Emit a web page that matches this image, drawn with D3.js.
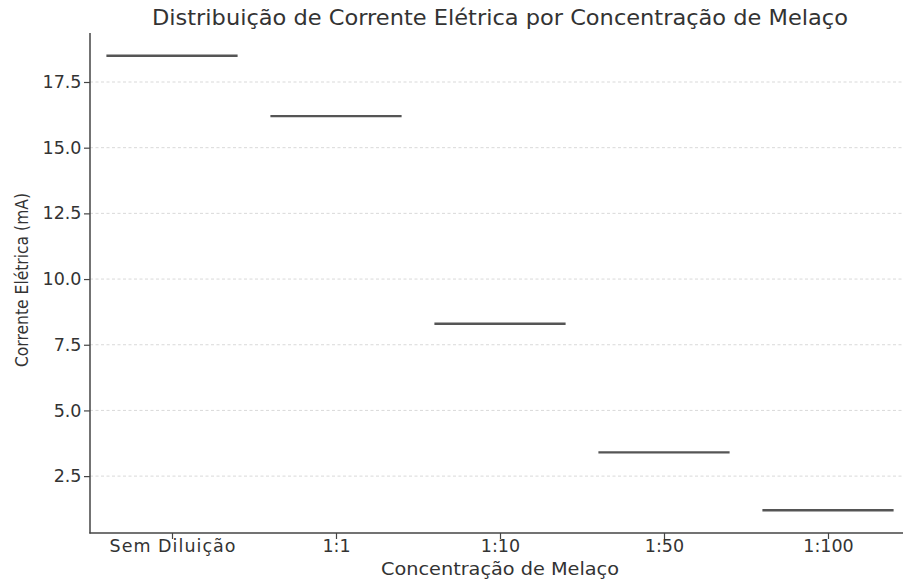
<!DOCTYPE html>
<html>
<head>
<meta charset="utf-8">
<script src="https://cdn.jsdelivr.net/npm/d3@7"></script>
<style>
  html, body { margin: 0; padding: 0; background: #fff; }
  svg { display: block; font-family: "DejaVu Sans", sans-serif; }
</style>
</head>
<body>
<svg id="chart" width="903" height="581"></svg>
<script>
// ---- data ----
const categories = ["Sem Diluição", "1:1", "1:10", "1:50", "1:100"];
const currentValues = [18.5, 16.2, 8.3, 3.4, 1.2];
const yTickValues = [2.5, 5.0, 7.5, 10.0, 12.5, 15.0, 17.5];
const titleText = "Distribuição de Corrente Elétrica por Concentração de Melaço";
const xLabelText = "Concentração de Melaço";
const yLabelText = "Corrente Elétrica (mA)";

// ---- layout ----
const svg = d3.select("#chart");
const plot = { left: 90, right: 910, top: 33, bottom: 533 };
const textColor = "#333";
const spineColor = "#444";

const x = d3.scalePoint().domain(categories).range([plot.left, plot.right]).padding(0.5);
const yMin = d3.min(currentValues), yMax = d3.max(currentValues);
const margin = (yMax - yMin) * 0.05;
const y = d3.scaleLinear().domain([yMin - margin, yMax + margin]).range([plot.bottom, plot.top]);

// grid
svg.append("g").selectAll("line").data(yTickValues).join("line")
  .attr("x1", plot.left).attr("x2", plot.right)
  .attr("y1", d => y(d)).attr("y2", d => y(d))
  .attr("stroke", "#cfcfcf").attr("stroke-width", 0.8)
  .attr("stroke-dasharray", "3,2.5");

// marks (degenerate boxes -> horizontal lines)
const boxW = x.step() * 0.8;
svg.append("g").selectAll("line").data(categories).join("line")
  .attr("x1", d => x(d) - boxW / 2).attr("x2", d => x(d) + boxW / 2)
  .attr("y1", (d, i) => y(currentValues[i])).attr("y2", (d, i) => y(currentValues[i]))
  .attr("stroke", "#555").attr("stroke-width", 2.3);

// axes
const yAxis = svg.append("g").attr("transform", `translate(${plot.left},0)`)
  .call(d3.axisLeft(y).tickValues(yTickValues).tickFormat(d3.format(".1f")).tickSize(6).tickPadding(2.5));
const xAxis = svg.append("g").attr("transform", `translate(0,${plot.bottom})`)
  .call(d3.axisBottom(x).tickSize(6).tickPadding(1));

[xAxis, yAxis].forEach(g => {
  g.select(".domain").remove();
  g.selectAll(".tick line").attr("stroke", spineColor).attr("stroke-width", 1.2);
  g.selectAll(".tick text").attr("fill", textColor)
    .style("font-family", "'DejaVu Sans', sans-serif").style("font-size", "17.5px");
});
// first x label is rendered slightly wider in the reference
xAxis.selectAll(".tick text").filter((d, i) => i === 0)
  .attr("textLength", 126).attr("lengthAdjust", "spacing");

// spines
svg.append("line").attr("x1", plot.left).attr("x2", plot.left)
  .attr("y1", plot.top).attr("y2", plot.bottom + 0.6)
  .attr("stroke", spineColor).attr("stroke-width", 1.5);
svg.append("line").attr("x1", plot.left - 0.6).attr("x2", plot.right)
  .attr("y1", plot.bottom).attr("y2", plot.bottom)
  .attr("stroke", spineColor).attr("stroke-width", 1.5);

// title
svg.append("text").attr("x", 500).attr("y", 25)
  .attr("text-anchor", "middle").attr("fill", textColor)
  .style("font-size", "20.5px")
  .attr("textLength", 696).attr("lengthAdjust", "spacingAndGlyphs")
  .text(titleText);

// x label
svg.append("text").attr("x", 500).attr("y", 575)
  .attr("text-anchor", "middle").attr("fill", textColor)
  .style("font-size", "18.5px")
  .attr("textLength", 238).attr("lengthAdjust", "spacingAndGlyphs")
  .text(xLabelText);

// y label
svg.append("text")
  .attr("transform", `translate(28,280) rotate(-90)`)
  .attr("text-anchor", "middle").attr("fill", textColor)
  .style("font-size", "17px")
  .attr("textLength", 174).attr("lengthAdjust", "spacingAndGlyphs")
  .text(yLabelText);
</script>
</body>
</html>
